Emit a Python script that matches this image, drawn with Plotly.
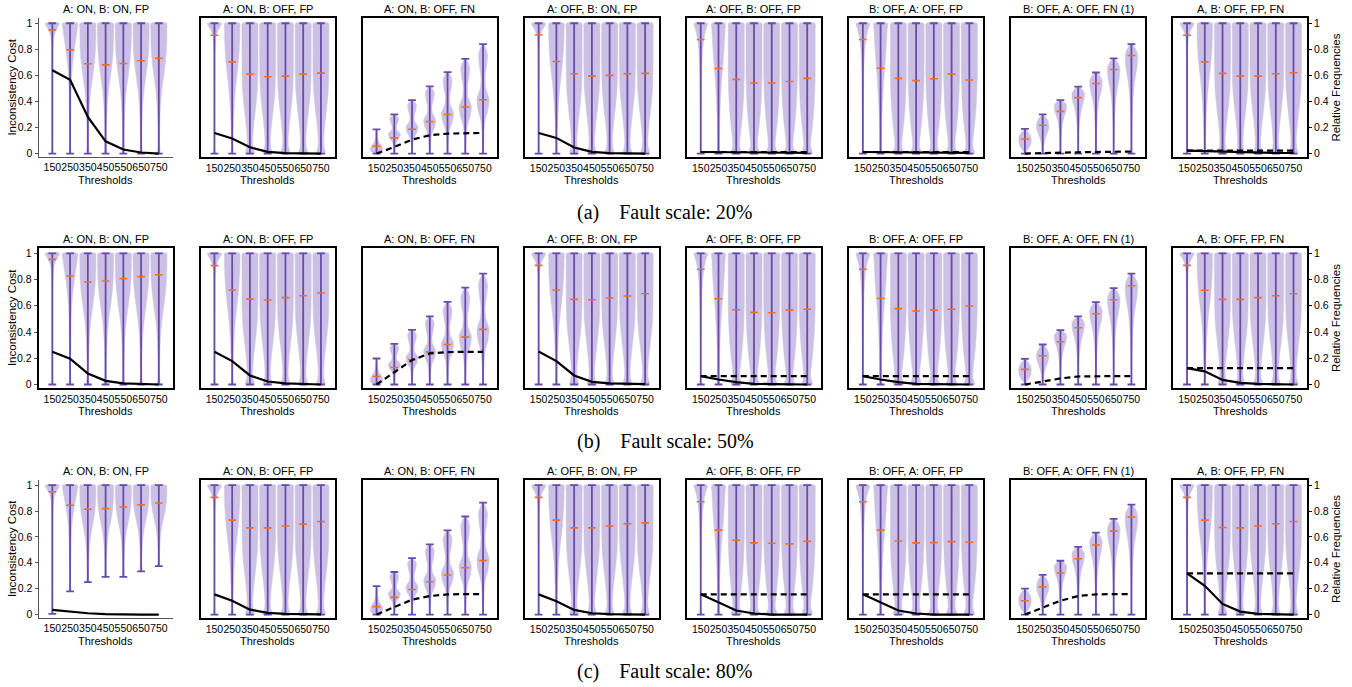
import plotly.graph_objects as go

# ---------------- data ----------------
THRESHOLDS = [150, 250, 350, 450, 550, 650, 750]
TITLES = ["A: ON, B: ON, FP", "A: ON, B: OFF, FP", "A: ON, B: OFF, FN", "A: OFF, B: ON, FP",
          "A: OFF, B: OFF, FP", "B: OFF, A: OFF, FP", "B: OFF, A: OFF, FN (1)", "A, B: OFF, FP, FN"]
CAPTIONS = ["(a)\u2003Fault scale: 20%", "(b)\u2003Fault scale: 50%", "(c)\u2003Fault scale: 80%"]

ONES = [1, 1, 1, 1, 1, 1, 1]
ZEROS = [0, 0, 0, 0, 0, 0, 0]

# --- fault scale 20% ---
MED_20 = [
    [0.949, 0.796, 0.689, 0.681, 0.691, 0.712, 0.732],
    [0.908, 0.704, 0.610, 0.589, 0.594, 0.610, 0.617],
    [0.056, 0.120, 0.186, 0.245, 0.300, 0.357, 0.413],
    [0.910, 0.707, 0.612, 0.594, 0.600, 0.612, 0.615],
    [0.875, 0.653, 0.569, 0.541, 0.541, 0.553, 0.577],
    [0.875, 0.655, 0.577, 0.560, 0.574, 0.610, 0.564],
    [0.112, 0.217, 0.324, 0.429, 0.538, 0.645, 0.753],
    [0.908, 0.704, 0.615, 0.594, 0.594, 0.612, 0.620],
]
MAX_20 = [ONES, ONES, [0.186, 0.300, 0.410, 0.515, 0.625, 0.727, 0.840], ONES,
          ONES, ONES, [0.190, 0.300, 0.410, 0.513, 0.622, 0.730, 0.840], ONES]
MIN_20 = [ZEROS] * 8
SOLID_20 = [
    [0.640, 0.566, 0.281, 0.094, 0.031, 0.008, 0.000],
    [0.158, 0.115, 0.048, 0.013, 0.003, 0.000, 0.000],
    None,
    [0.158, 0.120, 0.046, 0.013, 0.003, 0.000, 0.000],
    [0.012, 0.010, 0.008, 0.006, 0.005, 0.005, 0.005],
    [0.012, 0.010, 0.008, 0.006, 0.005, 0.005, 0.005],
    None,
    [0.022, 0.018, 0.012, 0.008, 0.005, 0.004, 0.004],
]
DASH_20 = [
    None, None,
    [0.000, 0.050, 0.107, 0.140, 0.153, 0.158, 0.158],
    None,
    [0.012, 0.012, 0.012, 0.012, 0.012, 0.012, 0.012],
    [0.012, 0.012, 0.012, 0.012, 0.012, 0.012, 0.012],
    [0.000, 0.005, 0.008, 0.010, 0.012, 0.013, 0.015],
    [0.022, 0.022, 0.022, 0.022, 0.022, 0.022, 0.022],
]

# --- fault scale 50% ---
MED_50 = [
    [0.954, 0.827, 0.781, 0.789, 0.807, 0.822, 0.837],
    [0.906, 0.720, 0.651, 0.644, 0.662, 0.677, 0.697],
    [0.061, 0.130, 0.190, 0.249, 0.305, 0.361, 0.420],
    [0.908, 0.720, 0.649, 0.646, 0.659, 0.674, 0.692],
    [0.878, 0.654, 0.570, 0.550, 0.547, 0.567, 0.573],
    [0.878, 0.656, 0.578, 0.560, 0.567, 0.573, 0.598],
    [0.115, 0.219, 0.326, 0.433, 0.539, 0.646, 0.753],
    [0.908, 0.718, 0.649, 0.649, 0.662, 0.677, 0.692],
]
MAX_50 = [ONES, ONES, [0.198, 0.310, 0.417, 0.520, 0.630, 0.738, 0.845], ONES,
          ONES, ONES, [0.196, 0.305, 0.415, 0.519, 0.628, 0.735, 0.845], ONES]
MIN_50 = [ZEROS] * 8
SOLID_50 = [
    [0.249, 0.196, 0.084, 0.028, 0.008, 0.003, 0.000],
    [0.249, 0.178, 0.069, 0.023, 0.008, 0.003, 0.000],
    None,
    [0.252, 0.178, 0.069, 0.020, 0.008, 0.003, 0.003],
    [0.064, 0.038, 0.018, 0.005, 0.003, 0.000, 0.000],
    [0.064, 0.038, 0.018, 0.005, 0.003, 0.000, 0.000],
    None,
    [0.125, 0.100, 0.035, 0.012, 0.004, 0.001, 0.000],
]
DASH_50 = [
    None, None,
    [0.000, 0.090, 0.186, 0.237, 0.247, 0.249, 0.249],
    None,
    [0.064, 0.064, 0.064, 0.064, 0.064, 0.064, 0.064],
    [0.064, 0.064, 0.064, 0.064, 0.064, 0.064, 0.064],
    [0.000, 0.025, 0.046, 0.061, 0.064, 0.064, 0.064],
    [0.125, 0.125, 0.125, 0.125, 0.125, 0.125, 0.125],
]

# --- fault scale 80% ---
MED_80 = [
    [0.949, 0.845, 0.814, 0.819, 0.832, 0.849, 0.862],
    [0.906, 0.730, 0.670, 0.670, 0.684, 0.699, 0.719],
    [0.061, 0.133, 0.194, 0.253, 0.306, 0.362, 0.418],
    [0.906, 0.730, 0.670, 0.670, 0.684, 0.702, 0.709],
    [0.872, 0.653, 0.574, 0.554, 0.551, 0.546, 0.566],
    [0.872, 0.653, 0.569, 0.554, 0.556, 0.564, 0.559],
    [0.107, 0.214, 0.321, 0.431, 0.538, 0.645, 0.753],
    [0.906, 0.730, 0.673, 0.670, 0.684, 0.702, 0.719],
]
MAX_80 = [ONES, ONES, [0.219, 0.329, 0.436, 0.543, 0.650, 0.758, 0.865], ONES,
          ONES, ONES, [0.200, 0.306, 0.416, 0.523, 0.633, 0.740, 0.850], ONES]
MIN_80 = [[0.005, 0.179, 0.250, 0.291, 0.291, 0.334, 0.375]] + [ZEROS] * 7
SOLID_80 = [
    [0.036, 0.023, 0.010, 0.003, 0.000, 0.000, 0.000],
    [0.156, 0.107, 0.038, 0.013, 0.005, 0.002, 0.002],
    None,
    [0.156, 0.102, 0.036, 0.010, 0.003, 0.000, 0.000],
    [0.156, 0.094, 0.031, 0.008, 0.000, 0.000, 0.000],
    [0.156, 0.094, 0.031, 0.008, 0.000, 0.000, 0.000],
    None,
    [0.319, 0.222, 0.082, 0.023, 0.005, 0.000, 0.000],
]
DASH_80 = [
    None, None,
    [0.000, 0.056, 0.115, 0.143, 0.156, 0.158, 0.158],
    None,
    [0.156, 0.156, 0.156, 0.156, 0.156, 0.156, 0.156],
    [0.156, 0.156, 0.156, 0.156, 0.156, 0.156, 0.156],
    [0.000, 0.056, 0.107, 0.143, 0.156, 0.158, 0.158],
    [0.319, 0.319, 0.319, 0.319, 0.319, 0.319, 0.319],
]

# violin density profiles (half widths) at fractions of [min, max]
PROFILE_LEVELS = [0, 0.05, 0.1, 0.2, 0.3, 0.4, 0.5, 0.6, 0.7, 0.8, 0.9, 0.95, 1.0]
PROFILES = {
    "top":  [0.03, 0.02, 0.02, 0.02, 0.02, 0.02, 0.02, 0.03, 0.03, 0.04, 0.09, 0.22, 0.40],
    "top2": [0.03, 0.02, 0.02, 0.02, 0.02, 0.03, 0.04, 0.05, 0.07, 0.11, 0.20, 0.29, 0.38],
    "hi":   [0.04, 0.03, 0.03, 0.03, 0.04, 0.05, 0.06, 0.09, 0.15, 0.24, 0.35, 0.40, 0.42],
    "hi2":  [0.05, 0.04, 0.04, 0.06, 0.09, 0.13, 0.19, 0.27, 0.35, 0.40, 0.43, 0.43, 0.42],
    "mid":  [0.07, 0.05, 0.04, 0.05, 0.07, 0.11, 0.18, 0.28, 0.37, 0.43, 0.45, 0.45, 0.43],
    "low":  [0.25, 0.17, 0.15, 0.20, 0.28, 0.36, 0.42, 0.44, 0.45, 0.45, 0.45, 0.45, 0.43],
    "slim": [0.06, 0.05, 0.05, 0.06, 0.08, 0.11, 0.15, 0.20, 0.26, 0.31, 0.35, 0.37, 0.38],
    "flat": [0.30, 0.20, 0.20, 0.28, 0.35, 0.40, 0.43, 0.45, 0.45, 0.45, 0.45, 0.45, 0.43],
    "fnb0": [0.10, 0.25, 0.33, 0.35, 0.30, 0.20, 0.12, 0.08, 0.06, 0.05, 0.04, 0.03, 0.02],
    "fnb":  [0.03, 0.03, 0.04, 0.06, 0.12, 0.28, 0.34, 0.15, 0.12, 0.20, 0.25, 0.18, 0.03],
    "fnt0": [0.02, 0.05, 0.10, 0.20, 0.28, 0.33, 0.35, 0.35, 0.32, 0.25, 0.15, 0.08, 0.03],
    "fnt1": [0.02, 0.03, 0.04, 0.06, 0.10, 0.16, 0.24, 0.32, 0.35, 0.32, 0.22, 0.14, 0.04],
    "fnt":  [0.02, 0.02, 0.02, 0.03, 0.04, 0.06, 0.09, 0.14, 0.22, 0.32, 0.35, 0.25, 0.05],
}
PANEL_SHAPES = [
    ["top", "hi", "mid", "mid", "mid", "mid", "mid"],
    ["top", "hi2", "low", "low", "low", "low", "low"],
    ["fnb0", "fnb", "fnb", "fnb", "fnb", "fnb", "fnb"],
    ["top", "hi2", "low", "low", "low", "low", "low"],
    ["top2", "slim", "flat", "flat", "flat", "flat", "flat"],
    ["top2", "slim", "flat", "flat", "flat", "flat", "flat"],
    ["fnt0", "fnt1", "fnt", "fnt", "fnt", "fnt", "fnt"],
    ["top", "hi2", "low", "low", "low", "low", "low"],
]

ROWS = [
    (MED_20, MIN_20, MAX_20, SOLID_20, DASH_20),
    (MED_50, MIN_50, MAX_50, SOLID_50, DASH_50),
    (MED_80, MIN_80, MAX_80, SOLID_80, DASH_80),
]

# ---------------- layout geometry ----------------
W, H = 1352, 687
PANEL_W = 134
COL_LEFT = [38.5 + 162.1 * i for i in range(8)]
ROW_TOP = [17, 248, 481]
ROW_BOT = [157, 389, 620]
CAPTION_Y = [212, 442, 673]
YR = [-0.029, 1.041]
XR = [-0.78, 6.77]

FILL = "rgb(204,193,228)"
PURPLE = "rgb(104,76,172)"
ORANGE = "rgb(240,110,40)"
SANS = "Liberation Sans, Arial, sans-serif"

fig = go.Figure()
annotations = []
layout_axes = {}

pos = list(range(len(THRESHOLDS)))
CAP = 0.22

for r, (MED, MN, MX, SOL, DSH) in enumerate(ROWS):
    y0 = 1 - ROW_BOT[r] / H
    y1 = 1 - ROW_TOP[r] / H
    for c in range(8):
        k = r * 8 + c + 1
        xa = "x" if k == 1 else f"x{k}"
        ya = "y" if k == 1 else f"y{k}"
        x0 = COL_LEFT[c] / W
        x1 = (COL_LEFT[c] + PANEL_W) / W

        # violins
        vx, vy = [], []
        for i, p in enumerate(pos):
            lo, hi = MN[c][i], MX[c][i]
            prof = PROFILES[PANEL_SHAPES[c][i]]
            right = [(p + w, lo + f * (hi - lo)) for f, w in zip(PROFILE_LEVELS, prof)]
            left = [(p - w, lo + f * (hi - lo)) for f, w in zip(PROFILE_LEVELS, prof)][::-1]
            pts = right + left + [right[0]]
            vx += [q[0] for q in pts] + [None]
            vy += [q[1] for q in pts] + [None]
        fig.add_trace(go.Scatter(x=vx, y=vy, mode="lines", fill="toself", fillcolor=FILL,
                                 line=dict(color=FILL, width=0.5, shape="spline", smoothing=0.6),
                                 xaxis=xa, yaxis=ya, hoverinfo="skip", showlegend=False))
        # whiskers + caps
        wx, wy = [], []
        for i, p in enumerate(pos):
            lo, hi = MN[c][i], MX[c][i]
            wx += [p, p, None, p - CAP, p + CAP, None, p - CAP, p + CAP, None]
            wy += [lo, hi, None, lo, lo, None, hi, hi, None]
        fig.add_trace(go.Scatter(x=wx, y=wy, mode="lines", line=dict(color=PURPLE, width=1.8),
                                 xaxis=xa, yaxis=ya, hoverinfo="skip", showlegend=False))
        # medians
        mx, my = [], []
        for i, p in enumerate(pos):
            mx += [p - CAP, p + CAP, None]
            my += [MED[c][i], MED[c][i], None]
        fig.add_trace(go.Scatter(x=mx, y=my, mode="lines", line=dict(color=ORANGE, width=1.6),
                                 xaxis=xa, yaxis=ya, hoverinfo="skip", showlegend=False))
        # relative frequency lines
        if DSH[c] is not None:
            fig.add_trace(go.Scatter(x=pos, y=DSH[c], mode="lines",
                                     line=dict(color="black", width=2.2, dash="6px,4px"),
                                     xaxis=xa, yaxis=ya, hoverinfo="skip", showlegend=False))
        if SOL[c] is not None:
            fig.add_trace(go.Scatter(x=pos, y=SOL[c], mode="lines",
                                     line=dict(color="black", width=2.2),
                                     xaxis=xa, yaxis=ya, hoverinfo="skip", showlegend=False))

        boxed = not (c == 0 and r in (0, 2))
        xkey = "xaxis" if k == 1 else f"xaxis{k}"
        ykey = "yaxis" if k == 1 else f"yaxis{k}"
        layout_axes[xkey] = dict(domain=[x0, x1], anchor=ya, range=XR,
                                 tickvals=pos, ticktext=[str(t) for t in THRESHOLDS],
                                 tickangle=0,
                                 tickfont=dict(family=SANS, size=10.5, color="black"),
                                 showline=True, linecolor="black" if boxed else "#555",
                                 linewidth=1.6 if boxed else 1, mirror=boxed,
                                 showgrid=False, zeroline=False, ticks="", fixedrange=True)
        ydict = dict(domain=[y0, y1], anchor=xa, range=YR,
                     showline=True, linecolor="black" if boxed else "#555",
                     linewidth=1.6 if boxed else 1, mirror=boxed,
                     showgrid=False, zeroline=False, fixedrange=True,
                     tickvals=[0, 0.2, 0.4, 0.6, 0.8, 1],
                     ticktext=["0", "0.2", "0.4", "0.6", "0.8", "1"],
                     tickfont=dict(family=SANS, size=10.5, color="black"))
        if c == 0:
            ydict.update(ticks="outside", ticklen=3, tickcolor="#555", showticklabels=True, side="left")
        elif c == 7:
            ydict.update(ticks="outside", ticklen=3, tickcolor="black", showticklabels=True, side="right")
        else:
            ydict.update(ticks="", showticklabels=False)
        layout_axes[ykey] = ydict

        # panel title and x title
        xc = (x0 + x1) / 2
        annotations.append(dict(text=TITLES[c], x=xc, y=y1, xref="paper", yref="paper",
                                xanchor="center", yanchor="bottom", yshift=1, showarrow=False,
                                font=dict(family=SANS, size=11, color="black")))
        annotations.append(dict(text="Thresholds", x=xc, y=y0, xref="paper", yref="paper",
                                xanchor="center", yanchor="middle", yshift=-23, showarrow=False,
                                font=dict(family=SANS, size=11, color="black")))

    ym = (y0 + y1) / 2
    annotations.append(dict(text="Inconsistency Cost", x=12 / W, y=ym, xref="paper", yref="paper",
                            xanchor="center", yanchor="middle", textangle=-90, showarrow=False,
                            font=dict(family=SANS, size=11.5, color="black")))
    annotations.append(dict(text="Relative Frequencies", x=1336 / W, y=ym, xref="paper", yref="paper",
                            xanchor="center", yanchor="middle", textangle=-90, showarrow=False,
                            font=dict(family=SANS, size=11.5, color="black")))
    annotations.append(dict(text=CAPTIONS[r], x=665 / W, y=1 - CAPTION_Y[r] / H, xref="paper",
                            yref="paper", xanchor="center", yanchor="middle", showarrow=False,
                            font=dict(family="Liberation Serif, Times New Roman, serif", size=20,
                                      color="black")))

fig.update_layout(width=W, height=H, autosize=False, margin=dict(l=0, r=0, t=0, b=0),
                  paper_bgcolor="white", plot_bgcolor="white", showlegend=False,
                  annotations=annotations, **layout_axes)

fig.write_html("out.html", config=dict(displayModeBar=False),
               post_script="document.body.style.margin='0';document.body.style.padding='0';"
                           "document.body.style.overflow='hidden';")
